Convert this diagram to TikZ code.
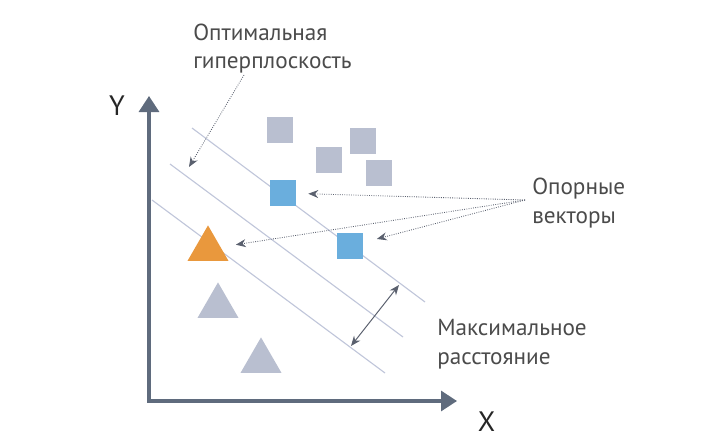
\documentclass[tikz,border=0pt]{standalone}
\usepackage{fontspec}
\setmainfont{PT Sans}
\usetikzlibrary{arrows.meta,shapes.geometric}
\definecolor{axisgray}{RGB}{95,107,125}
\definecolor{linegray}{RGB}{192,198,218}
\definecolor{ptgray}{RGB}{185,191,208}
\definecolor{ptblue}{RGB}{106,174,221}
\definecolor{ptorange}{RGB}{233,152,61}
\definecolor{txtgray}{RGB}{75,75,75}
\definecolor{arrgray}{RGB}{90,96,110}
\tikzset{
	sq/.style={minimum size=0.65cm, inner sep=0},
	tri/.style={regular polygon, regular polygon sides=3, minimum size=1.18cm, inner sep=0},
	lbl/.style={align=left, inner sep=0, text=txtgray, font=\fontsize{16.5}{20}\selectfont},
	axlbl/.style={inner sep=0, text=black!85, font=\fontsize{20}{24}\selectfont},
	dotarr/.style={densely dotted, line width=0.6pt, color=arrgray, -{Stealth[length=0.25cm,width=0.2cm]}},
}

\begin{document}
\begin{tikzpicture}
		%%%%% START %%%%%
		\useasboundingbox (0, 0) rectangle (17.925, 11.1);
		
		% axes
		\coordinate (o) at (3.725, 1.075);
		\coordinate (ytip) at (3.725, 8.7);
		\coordinate (xtip) at (11.425, 1.075);
		\draw[line width=2.2pt, color=axisgray, {Triangle[width=0.5cm,length=0.4cm]}-{Triangle[width=0.5cm,length=0.4cm]}] (ytip) -- (o) -- (xtip);
		\node[axlbl, anchor=base] (ylbl) at (2.925, 8.225) {Y};
		\node[axlbl, anchor=base] (xlbl) at (12.1625, 0.325) {X};
		
		% hyperplane and margins
		\draw[line width=0.8pt, color=linegray] (4.8, 7.9) -- (10.625, 3.55);
		\draw[line width=0.8pt, color=linegray] (4.25, 7.0) -- (10.075, 2.675);
		\draw[line width=0.8pt, color=linegray] (3.8, 6.1) -- (9.625, 1.775);
		
		% points
		\node[sq, fill=ptgray] (gsq1) at (7.0, 7.85) {};
		\node[sq, fill=ptgray] (gsq2) at (8.225, 7.1) {};
		\node[sq, fill=ptgray] (gsq3) at (9.075, 7.575) {};
		\node[sq, fill=ptgray] (gsq4) at (9.475, 6.775) {};
		\node[sq, fill=ptblue] (bsq1) at (7.075, 6.275) {};
		\node[sq, fill=ptblue] (bsq2) at (8.75, 4.95) {};
		\node[tri, fill=ptorange] (otri) at (5.2, 4.875) {};
		\node[tri, fill=ptgray] (gtri1) at (5.45, 3.45) {};
		\node[tri, fill=ptgray] (gtri2) at (6.525, 2.075) {};
		
		% labels (base = last line)
		\node[lbl, anchor=base west] (hplbl) at (4.825, 9.3925) {Оптимальная\\гиперплоскость};
		\node[lbl, anchor=base west] (svlbl) at (13.3, 5.525) {Опорные\\векторы};
		\node[lbl, anchor=base west] (mlbl) at (10.925, 2.0) {Максимальное\\расстояние};
		
		% pointers
		\coordinate (hpfrom) at (6.1, 9.225);
		\coordinate (hpto) at (4.725, 6.925);
		\draw[dotarr] (hpfrom) -- (hpto);
		
		\coordinate (svfrom) at (13.125, 6.1);
		\draw[dotarr, shorten >=0.3cm] (svfrom) -- (bsq1);
		\draw[dotarr, shorten >=0.35cm] (svfrom) -- (bsq2);
		\draw[dotarr, shorten >=0.38cm] (svfrom) -- (otri);
		
		\coordinate (m1) at (9.975, 3.975);
		\coordinate (m3) at (8.775, 2.45);
		\draw[line width=0.7pt, color=arrgray, {Stealth[length=0.25cm,width=0.2cm]}-{Stealth[length=0.25cm,width=0.2cm]}] (m1) -- (m3);
		
		%%%%% END %%%%%
	\end{tikzpicture}
\end{document}
